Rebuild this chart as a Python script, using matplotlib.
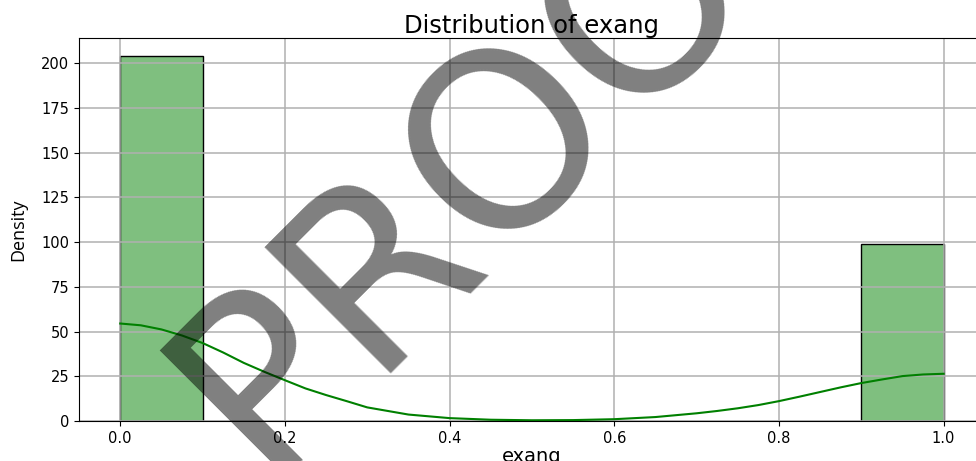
import numpy as np
import matplotlib
matplotlib.use("Agg")
import matplotlib.pyplot as plt

# histogram of exang (10 bins between 0 and 1)
bin_edges = [0.0, 0.1, 0.2, 0.3, 0.4, 0.5, 0.6, 0.7, 0.8, 0.9, 1.0]
counts = [204, 0, 0, 0, 0, 0, 0, 0, 0, 99]

# kde curve (scaled to counts)
kde_x = [0.0, 0.025, 0.05, 0.075, 0.1, 0.125, 0.15, 0.175, 0.2, 0.225, 0.25,
         0.275, 0.3, 0.35, 0.4, 0.45, 0.5, 0.55, 0.6, 0.65, 0.7, 0.725, 0.75,
         0.775, 0.8, 0.825, 0.85, 0.875, 0.9, 0.925, 0.95, 0.975, 1.0]
kde_y = [54.5, 53.5, 51.2, 47.8, 43.6, 38.3, 32.5, 27.5, 22.8, 18.2, 14.5,
         11.1, 7.6, 3.6, 1.6, 0.7, 0.4, 0.5, 1.0, 2.2, 4.3, 5.6, 7.1,
         8.9, 11.1, 13.6, 16.2, 18.8, 21.2, 23.2, 25.1, 26.0, 26.4]

fig = plt.figure(figsize=(9.76, 4.61), dpi=100)
ax = fig.add_axes([0.081, 0.0868, 0.928, 0.831])

widths = np.diff(bin_edges)
ax.bar(bin_edges[:-1], counts, width=widths, align="edge",
       facecolor=(0, 0.5, 0, 0.5), edgecolor="black", linewidth=1)
ax.plot(kde_x, kde_y, color="green", linewidth=1.5)

ax.set_xlim(-0.05, 1.05)
ax.set_ylim(0, 214.2)
ax.set_xticks([0.0, 0.2, 0.4, 0.6, 0.8, 1.0])
ax.set_yticks([0, 25, 50, 75, 100, 125, 150, 175, 200])
ax.tick_params(labelsize=10.5)
ax.grid(True, color="#b0b0b0", linewidth=1.1)

ax.set_title("Distribution of exang", fontsize=17.5, pad=3)
ax.set_xlabel("exang", fontsize=14, labelpad=1)
ax.set_ylabel("Density", fontsize=13, family="Open Sans", labelpad=10)

# watermark
fig.text(0.526, 0.715, "PROOF", fontsize=176, color="black", alpha=0.5,
         rotation=45, ha="center", va="center", zorder=10)

fig.savefig("out.png", dpi=100)
